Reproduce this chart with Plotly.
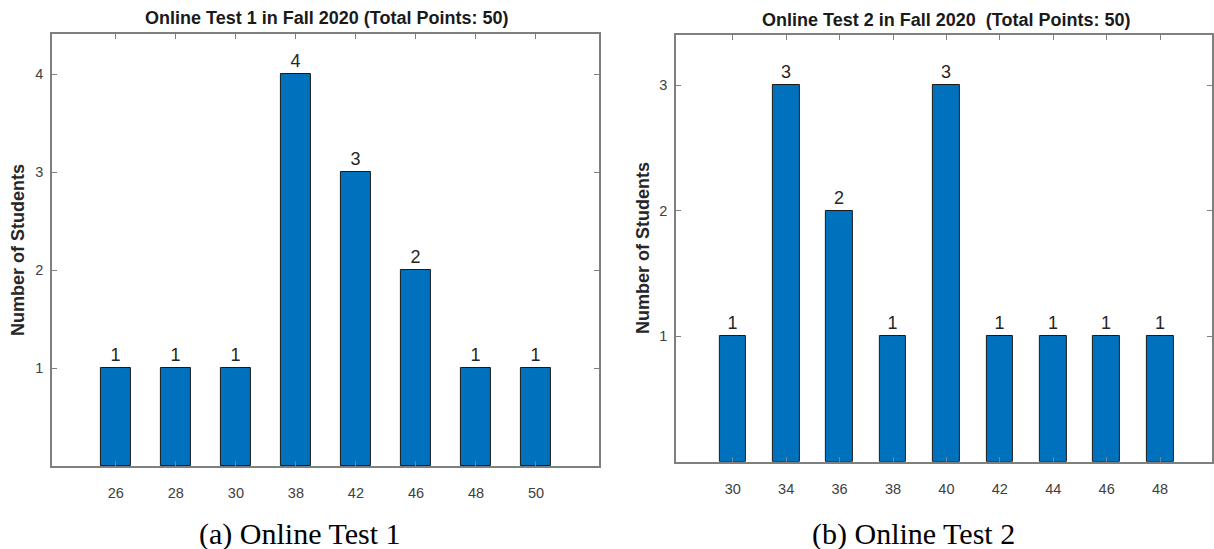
import plotly.graph_objects as go

# ---- data ----
test1_scores = ["26", "28", "30", "38", "42", "46", "48", "50"]
test1_counts = [1, 1, 1, 4, 3, 2, 1, 1]
test2_scores = ["30", "34", "36", "38", "40", "42", "44", "46", "48"]
test2_counts = [1, 3, 2, 1, 3, 1, 1, 1, 1]
titles = ["Online Test 1 in Fall 2020 (Total Points: 50)",
          "Online Test 2 in Fall 2020\u00a0\u00a0(Total Points: 50)"]
captions = ["(a) Online Test 1", "(b) Online Test 2"]
y_title = "Number of Students"

W, H = 1214, 549
BAR = "#0072BD"
AX = "#7f7f7f"
FONT = "Arial, Liberation Sans, sans-serif"
SERIF = "Liberation Serif, Times New Roman, serif"

fig = go.Figure()
pos1 = list(range(1, len(test1_scores) + 1))
pos2 = list(range(1, len(test2_scores) + 1))

for pos, cnt, xa, ya in [(pos1, test1_counts, "x", "y"), (pos2, test2_counts, "x2", "y2")]:
    fig.add_trace(go.Bar(
        x=pos, y=cnt, xaxis=xa, yaxis=ya, width=0.5,
        marker=dict(color=BAR, line=dict(color="#1a1a1a", width=1)),
        texttemplate="%{y}", textposition="outside",
        textfont=dict(family=FONT, size=18, color="#262626"),
        cliponaxis=False, showlegend=False, hoverinfo="skip",
    ))

def px(x):
    return x / W

def py(y):
    return 1 - y / H

common = dict(showline=True, linecolor=AX, linewidth=1.5, mirror="ticks",
              ticks="inside", ticklen=5, tickcolor=AX, tickwidth=1,
              showgrid=False, zeroline=False,
              tickfont=dict(family=FONT, size=14.5, color="#404040"))

fig.update_layout(
    width=W, height=H, margin=dict(l=0, r=0, t=0, b=0),
    paper_bgcolor="white", plot_bgcolor="white",
    bargap=0,
    xaxis=dict(domain=[px(52), px(600)], range=[-0.065, 9.05], anchor="y",
               tickmode="array", tickvals=pos1, ticktext=test1_scores,
               ticklabelstandoff=13, **common),
    yaxis=dict(domain=[py(466), py(34)], range=[0, 4.41], anchor="x",
               tickmode="array", tickvals=[1, 2, 3, 4], ticklabelstandoff=4, **common),
    xaxis2=dict(domain=[px(677), 1.0], range=[-0.065, 9.972], anchor="y2",
                tickmode="array", tickvals=pos2, ticktext=test2_scores,
                ticklabelstandoff=13, **common),
    yaxis2=dict(domain=[py(461.7), py(35)], range=[0, 3.4], anchor="x2",
                tickmode="array", tickvals=[1, 2, 3], ticklabelstandoff=4, **common),
)

ann = []
ann.append(dict(text="<b>" + titles[0] + "</b>", x=px(327), y=py(18), xref="paper", yref="paper",
                showarrow=False, xanchor="center", yanchor="middle",
                font=dict(family=FONT, size=18, color="#1a1a1a")))
ann.append(dict(text="<b>" + titles[1] + "</b>", x=px(948), y=py(20), xref="paper", yref="paper",
                showarrow=False, xanchor="center", yanchor="middle",
                font=dict(family=FONT, size=18, color="#1a1a1a")))
ann.append(dict(text="<b>" + y_title + "</b>", x=px(18), y=py(250), xref="paper", yref="paper",
                showarrow=False, textangle=-90, xanchor="center", yanchor="middle",
                font=dict(family=FONT, size=18, color="#262626")))
ann.append(dict(text="<b>" + y_title + "</b>", x=px(644), y=py(248), xref="paper", yref="paper",
                showarrow=False, textangle=-90, xanchor="center", yanchor="middle",
                font=dict(family=FONT, size=18, color="#262626")))
ann.append(dict(text=captions[0], x=px(300), y=py(534), xref="paper", yref="paper",
                showarrow=False, xanchor="center", yanchor="middle",
                font=dict(family=SERIF, size=30, color="black")))
ann.append(dict(text=captions[1], x=px(915), y=py(534), xref="paper", yref="paper",
                showarrow=False, xanchor="center", yanchor="middle",
                font=dict(family=SERIF, size=30, color="black")))
fig.update_layout(annotations=ann)

fig.write_html("out.html", config={"displayModeBar": False},
               post_script="document.body.style.margin='0';document.body.style.overflow='hidden';")
